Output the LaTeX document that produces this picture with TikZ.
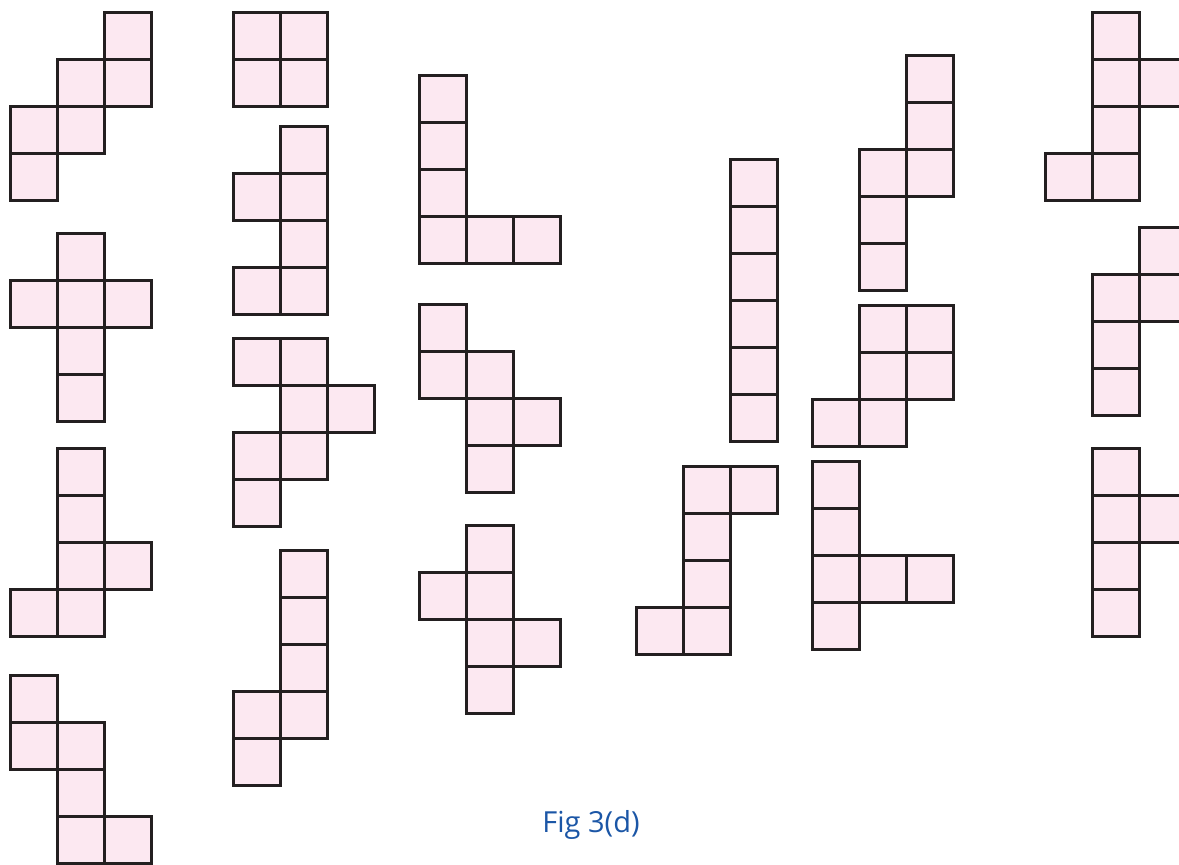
\documentclass[tikz,border=0pt]{standalone}
\usepackage{fontspec}
\setsansfont{Open Sans}
\usepackage{tikz}
\definecolor{netfill}{HTML}{FCE8F1}
\definecolor{netline}{HTML}{231F20}
\definecolor{figblue}{HTML}{1B56A6}

\newcommand{\hexnet}[3]{%
  \foreach \c/\r in {#3}
    \draw[sq] ({#1+47*\c}, {#2+47*\r}) rectangle ++(47,47);}

\begin{document}
\begin{tikzpicture}[
    x=0.5pt, y=-0.5pt,
    sq/.style={fill=netfill, draw=netline, line width=1.5pt},
    figcap/.style={font=\sffamily\fontsize{14.5}{16}\selectfont, text=figblue, inner sep=0pt},
  ]
  \useasboundingbox (0,0) rectangle (1179,865);
  \clip (0,0) rectangle (1179,865);
  \hexnet{10}{13}{2/0, 1/1, 2/1, 0/2, 1/2, 0/3}
  \hexnet{10}{234}{1/0, 0/1, 1/1, 2/1, 1/2, 1/3}
  \hexnet{10}{449}{1/0, 1/1, 1/2, 2/2, 0/3, 1/3}
  \hexnet{10}{676}{0/0, 0/1, 1/1, 1/2, 1/3, 2/3}
  \hexnet{233}{13}{0/0, 1/0, 0/1, 1/1}
  \hexnet{233}{127}{1/0, 0/1, 1/1, 1/2, 0/3, 1/3}
  \hexnet{233}{339}{0/0, 1/0, 1/1, 2/1, 0/2, 1/2, 0/3}
  \hexnet{233}{551}{1/0, 1/1, 1/2, 0/3, 1/3, 0/4}
  \hexnet{419}{76}{0/0, 0/1, 0/2, 0/3, 1/3, 2/3}
  \hexnet{419}{305}{0/0, 0/1, 1/1, 1/2, 2/2, 1/3}
  \hexnet{419}{526}{1/0, 0/1, 1/1, 1/2, 2/2, 1/3}
  \hexnet{730}{160}{0/0, 0/1, 0/2, 0/3, 0/4, 0/5}
  \hexnet{636}{467}{1/0, 2/0, 1/1, 1/2, 0/3, 1/3}
  \hexnet{859}{56}{1/0, 1/1, 0/2, 1/2, 0/3, 0/4}
  \hexnet{812}{306}{1/0, 2/0, 1/1, 2/1, 0/2, 1/2}
  \hexnet{812}{462}{0/0, 0/1, 0/2, 1/2, 2/2, 0/3}
  \hexnet{1045}{13}{1/0, 1/1, 2/1, 1/2, 0/3, 1/3}
  \hexnet{1092}{228}{1/0, 0/1, 1/1, 0/2, 0/3}
  \hexnet{1092}{449}{0/0, 0/1, 1/1, 0/2, 0/3}
  \node[figcap, anchor=base] (figlabel) at (591,833) {Fig 3(d)};
\end{tikzpicture}
\end{document}
